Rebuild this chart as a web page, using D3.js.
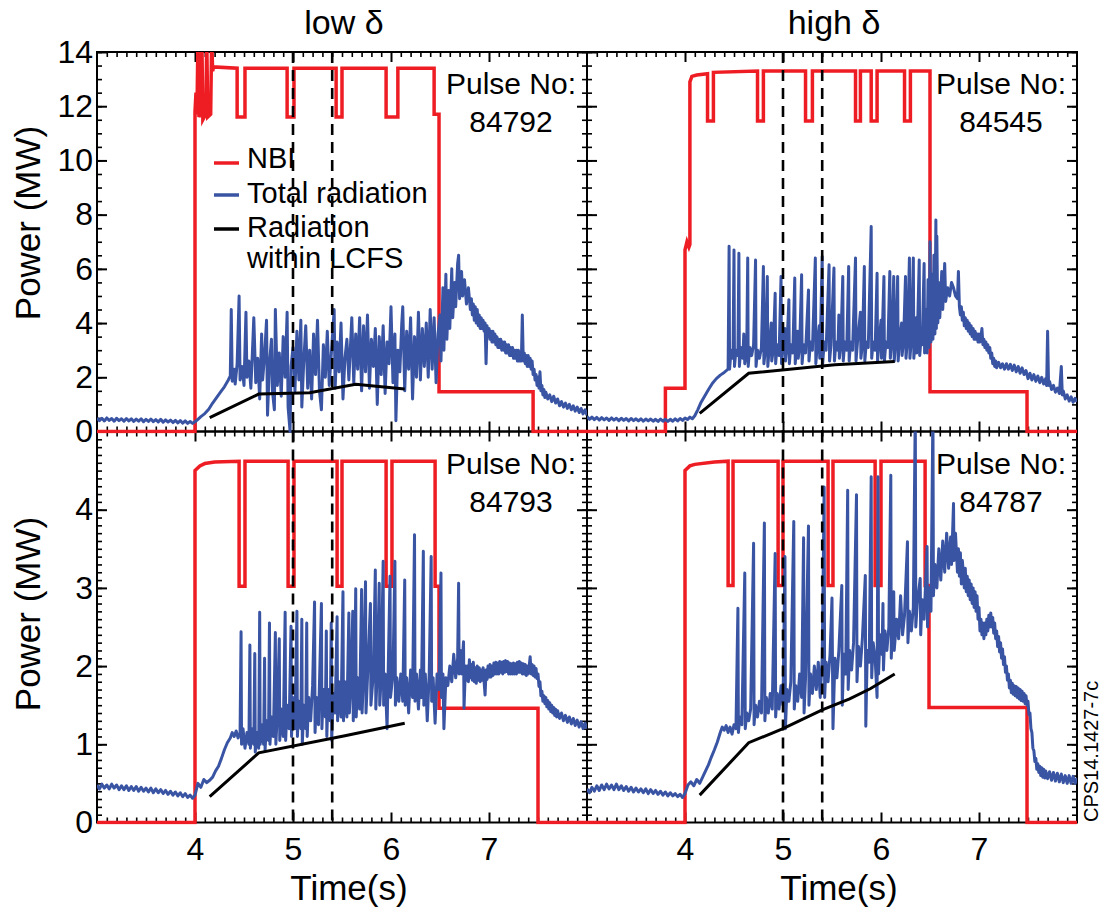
<!DOCTYPE html>
<html><head><meta charset="utf-8">
<script src="https://cdn.jsdelivr.net/npm/d3@7"></script>
<style>
body{margin:0;background:#fff}
svg{display:block}
text{font-family:"Liberation Sans",Arial,Helvetica,sans-serif;fill:#000}
</style>
</head><body>
<svg id="chart" width="1101" height="914"></svg>
<script>
// ---------- tick labels ----------
const xTickLabels = [4, 5, 6, 7];
const yTicksTop = [0, 2, 4, 6, 8, 10, 12, 14];
const yTicksBottom = [0, 1, 2, 3, 4];
const dashedTimes = [5.0, 5.4];
const columnTitles = ["low δ", "high δ"];
const legendLabels = [["NBI"], ["Total radiation"], ["Radiation", "within LCFS"]];

// ---------- Pulse 84792 (low δ, top) ----------
const nbi84792 = [[3,0],[4.0,0],[4.0,11.8],[4.01,12.5],[4.02,11.7],[4.03,14.5],[4.04,11.6],[4.06,11.8],[4.07,14.5],[4.08,11.5],[4.11,11.7],[4.12,14.5],[4.13,11.6],[4.16,11.7],[4.17,14.5],[4.18,13.3],[4.19,13.45],[4.43,13.4],[4.43,11.6],[4.51,11.6],[4.51,13.4],[4.94,13.4],[4.94,11.6],[5.01,11.6],[5.01,13.4],[5.44,13.4],[5.44,11.6],[5.50,11.6],[5.50,13.4],[5.95,13.4],[5.95,11.6],[6.07,11.6],[6.07,13.4],[6.44,13.4],[6.44,11.7],[6.49,11.7],[6.49,1.47],[7.45,1.47],[7.45,0],[8,0]];
const rad84792 = [[3.000,0.50],[3.025,0.40],[3.050,0.49],[3.075,0.39],[3.100,0.50],[3.125,0.41],[3.150,0.48],[3.175,0.38],[3.200,0.49],[3.225,0.40],[3.250,0.47],[3.275,0.38],[3.300,0.48],[3.325,0.39],[3.350,0.47],[3.375,0.37],[3.400,0.46],[3.425,0.38],[3.450,0.47],[3.475,0.36],[3.500,0.45],[3.525,0.37],[3.550,0.46],[3.575,0.36],[3.600,0.44],[3.625,0.35],[3.650,0.45],[3.675,0.34],[3.700,0.43],[3.725,0.35],[3.750,0.42],[3.775,0.33],[3.800,0.41],[3.825,0.32],[3.850,0.40],[3.875,0.31],[3.900,0.39],[3.925,0.30],[3.950,0.37],[3.975,0.30],[4.000,0.36],
[4.03,0.45],[4.06,0.55],[4.10,0.66],[4.14,0.82],[4.18,1.05],[4.22,1.25],[4.26,1.45],[4.30,1.65],[4.34,1.9],
[4.36,2.05],[4.37,4.5],[4.38,1.85],[4.40,2.3],[4.41,1.75],[4.43,2.5],[4.45,5.0],[4.46,1.9],[4.48,2.4],[4.50,1.7],[4.52,4.4],[4.53,2.0],[4.55,2.6],[4.57,1.6],[4.59,3.3],[4.60,4.2],[4.62,1.8],[4.64,2.7],[4.66,1.2],[4.68,3.6],[4.69,1.9],[4.71,2.8],[4.73,4.1],[4.74,0.6],[4.76,2.5],[4.78,3.4],[4.79,1.5],[4.81,0.8],[4.82,4.5],[4.84,1.7],[4.86,2.9],[4.88,1.3],[4.90,3.5],[4.92,2.0],[4.94,4.4],[4.95,0.9],[4.97,0.0],[4.98,2.4],[5.00,3.1],[5.02,1.5],[5.04,3.7],[5.06,1.9],[5.08,4.1],[5.09,0.9],[5.11,2.6],[5.13,3.9],[5.15,1.6],[5.17,3.0],[5.19,1.2],[5.21,3.6],[5.23,2.1],[5.25,4.1],[5.27,1.5],[5.29,0.8],[5.31,3.2],[5.33,2.0],[5.35,3.7],[5.37,1.7],[5.39,2.8],[5.42,4.5],[5.43,1.6],[5.45,3.3],[5.47,2.2],[5.49,4.0],[5.51,1.2],[5.53,2.7],[5.55,3.4],[5.57,1.9],[5.60,4.2],[5.62,1.8],[5.64,3.6],[5.66,2.3],[5.68,4.2],[5.70,1.5],[5.72,3.9],[5.74,2.2],[5.76,4.3],[5.78,1.6],[5.80,3.4],[5.82,2.4],[5.84,3.8],[5.86,1.0],[5.88,3.5],[5.90,2.1],[5.92,3.9],[5.94,1.4],[5.96,3.3],[5.98,2.5],[6.00,4.6],[6.02,1.8],[6.04,3.6],[6.05,0.4],[6.07,3.0],[6.09,2.2],[6.11,4.0],[6.12,4.6],[6.14,1.5],[6.16,3.7],[6.18,2.3],[6.20,4.2],[6.22,1.2],[6.24,3.5],[6.26,2.0],[6.28,4.4],[6.30,1.9],[6.32,3.8],[6.34,2.4],[6.36,4.0],[6.38,2.0],[6.40,4.5],[6.42,2.3],[6.44,4.2],[6.46,1.8],[6.48,3.6],
[6.50,4.3],[6.51,2.6],[6.53,5.3],[6.54,3.0],[6.56,5.8],[6.57,3.4],[6.59,5.2],[6.60,3.8],[6.62,6.0],[6.63,4.2],[6.65,5.5],[6.66,4.6],[6.68,6.2],[6.69,6.5],[6.70,4.9],[6.72,5.9],[6.73,5.0],[6.75,5.6],[6.77,4.7],[6.79,5.3],
[6.81,4.5],[6.82,4.9],[6.83,4.3],[6.84,4.7],[6.85,4.1],[6.86,4.6],[6.87,4.0],[6.88,4.5],[6.89,3.9],[6.90,4.3],[6.91,3.8],[6.92,4.2],[6.93,3.8],[6.94,4.1],[6.95,3.7],[6.96,4.0],[6.97,2.5],[6.98,3.9],[6.99,3.5],[7.00,3.8],[7.01,3.4],[7.02,3.7],[7.03,3.3],[7.04,3.7],[7.05,3.3],[7.06,3.6],[7.07,3.2],[7.08,3.5],[7.09,3.1],[7.10,3.4],[7.11,3.1],[7.12,3.4],[7.13,3.0],[7.14,3.3],[7.15,3.0],[7.16,3.3],[7.17,2.9],[7.18,3.2],[7.19,2.9],[7.20,3.2],[7.21,2.8],[7.22,3.1],[7.23,2.8],[7.24,3.1],[7.25,2.7],[7.26,3.0],[7.27,2.7],[7.28,3.0],[7.29,2.6],[7.30,3.0],[7.31,2.6],[7.32,2.9],[7.33,2.6],[7.34,4.3],[7.35,2.6],[7.36,2.9],[7.37,2.5],[7.38,2.8],[7.39,2.4],[7.40,2.8],[7.41,2.4],[7.42,2.7],[7.43,2.3],[7.44,2.6],[7.45,2.1],[7.46,2.3],[7.47,1.9],[7.48,2.1],[7.49,1.7],[7.50,2.0],[7.51,1.6],[7.52,2.2],[7.53,1.5],[7.54,1.7],[7.55,1.35],[7.56,1.55],[7.57,1.25],[7.58,1.45],[7.60,1.2],[7.62,1.35],[7.64,1.1],[7.66,1.3],[7.68,1.05],[7.70,1.2],[7.72,0.95],[7.74,1.1],[7.76,0.9],[7.78,1.05],[7.80,0.85],[7.82,1.0],[7.84,0.8],[7.86,0.95],[7.88,0.75],[7.90,0.9],[7.92,0.7],[7.94,0.85],[7.96,0.65],[7.98,0.8],[8.00,0.6]];
const lcfs84792 = [[4.15,0.51],[4.65,1.38],[5.17,1.43],[5.64,1.74],[6.14,1.57]];

// ---------- Pulse 84545 (high δ, top) ----------
const nbi84545 = [[3,0],[3.80,0],[3.80,1.6],[4.0,1.6],[4.0,6.7],[4.02,7.0],[4.04,6.8],[4.05,6.9],[4.05,12.9],[4.07,13.1],[4.12,13.15],[4.23,13.2],[4.23,11.45],[4.29,11.45],[4.29,13.25],[4.74,13.3],[4.74,11.45],[4.80,11.45],[4.80,13.3],[5.23,13.3],[5.23,11.45],[5.30,11.45],[5.30,13.3],[5.74,13.3],[5.74,11.45],[5.79,11.45],[5.79,13.3],[5.90,13.3],[5.90,11.45],[5.96,11.45],[5.96,13.3],[6.24,13.3],[6.24,11.45],[6.30,11.45],[6.30,13.3],[6.50,13.3],[6.50,1.47],[7.49,1.47],[7.49,0],[8,0]];
const rad84545 = [[3.000,0.55],[3.025,0.45],[3.050,0.53],[3.075,0.44],[3.100,0.52],[3.125,0.42],[3.150,0.51],[3.175,0.43],[3.200,0.50],[3.225,0.41],[3.250,0.50],[3.275,0.42],[3.300,0.49],[3.325,0.40],[3.350,0.49],[3.375,0.41],[3.400,0.48],[3.425,0.39],[3.450,0.48],[3.475,0.40],[3.500,0.47],[3.525,0.39],[3.550,0.47],[3.575,0.38],[3.600,0.46],[3.625,0.39],[3.650,0.46],[3.675,0.38],[3.700,0.45],[3.725,0.37],[3.750,0.46],[3.775,0.38],[3.800,0.45],[3.825,0.37],[3.850,0.45],[3.875,0.38],[3.900,0.47],[3.925,0.39],[3.950,0.48],[3.975,0.41],[4.000,0.50],[4.025,0.44],[4.050,0.53],[4.075,0.47],[4.100,0.58],
[4.13,0.8],[4.16,1.05],[4.20,1.3],[4.24,1.55],[4.28,1.78],[4.32,1.95],[4.36,2.08],[4.40,2.18],
[4.44,2.30],[4.45,6.83],[4.455,2.3],[4.47,3.0],[4.49,2.7],[4.50,6.70],[4.505,2.4],[4.52,3.0],[4.54,2.8],[4.55,6.58],[4.555,2.4],[4.57,3.1],[4.59,2.7],[4.60,3.6],[4.61,2.5],[4.63,3.0],[4.64,6.40],[4.645,2.4],[4.66,3.1],[4.68,2.8],[4.70,3.2],[4.72,6.33],[4.725,2.4],[4.74,3.0],[4.76,2.7],[4.78,3.1],[4.80,6.09],[4.805,2.5],[4.82,3.0],[4.84,5.72],[4.845,2.4],[4.86,3.1],[4.88,4.0],[4.885,2.6],[4.90,3.0],[4.92,5.10],[4.925,2.5],[4.94,3.2],[4.96,2.8],[4.98,5.72],[4.985,2.5],[5.00,3.2],[5.02,3.8],[5.025,2.6],[5.04,3.1],[5.06,4.86],[5.065,2.5],[5.08,3.2],[5.10,2.9],[5.12,5.66],[5.125,2.5],[5.14,3.2],[5.15,3.7],[5.155,2.7],[5.17,3.1],[5.19,5.78],[5.195,2.5],[5.21,3.2],[5.23,2.9],[5.26,5.22],[5.265,2.6],[5.28,3.3],[5.30,3.0],[5.33,6.40],[5.335,2.5],[5.35,3.2],[5.37,3.9],[5.375,2.7],[5.38,3.1],[5.40,6.46],[5.405,2.5],[5.42,3.3],[5.44,3.0],[5.47,6.15],[5.475,2.6],[5.49,3.2],[5.52,6.03],[5.525,2.6],[5.54,3.3],[5.56,3.0],[5.57,4.3],[5.575,2.7],[5.59,3.2],[5.61,5.72],[5.615,2.6],[5.63,3.3],[5.65,3.0],[5.67,6.09],[5.675,2.6],[5.69,3.3],[5.71,3.0],[5.74,6.40],[5.745,2.6],[5.76,3.3],[5.79,4.4],[5.795,2.7],[5.81,3.2],[5.83,6.09],[5.835,2.6],[5.85,3.3],[5.87,3.1],[5.90,7.56],[5.905,2.7],[5.92,3.3],[5.94,3.0],[5.96,5.84],[5.965,2.6],[5.98,3.3],[6.00,4.1],[6.005,2.7],[6.01,3.2],[6.03,5.72],[6.035,2.6],[6.05,3.3],[6.07,3.1],[6.09,5.90],[6.095,2.7],[6.11,3.3],[6.13,5.72],[6.135,2.6],[6.15,3.3],[6.17,5.72],[6.175,2.6],[6.19,3.4],[6.21,4.0],[6.215,2.8],[6.23,3.3],[6.25,5.72],[6.255,2.7],[6.27,3.4],[6.29,6.40],[6.295,2.7],[6.31,3.4],[6.33,6.40],[6.335,2.7],[6.35,3.4],[6.36,4.2],[6.365,2.9],[6.37,3.3],[6.39,6.33],[6.395,2.8],[6.41,3.5],[6.42,3.2],[6.44,6.20],[6.445,2.9],
[6.46,4.5],[6.47,2.9],[6.48,5.6],[6.49,3.1],[6.50,7.0],[6.51,3.3],[6.52,5.8],[6.53,3.4],[6.54,6.5],[6.55,3.6],[6.56,7.8],[6.565,3.8],[6.57,7.2],[6.58,4.0],[6.59,5.5],[6.60,4.2],[6.62,5.9],[6.63,4.5],[6.65,6.2],[6.66,4.8],[6.68,5.3],[6.70,5.0],[6.72,5.5],[6.74,5.3],[6.76,5.0],[6.78,4.9],[6.79,5.9],
[6.80,4.6],[6.81,4.3],[6.82,4.6],[6.83,4.1],[6.84,4.4],[6.85,3.9],[6.86,4.2],[6.87,3.8],[6.88,4.1],[6.89,3.7],[6.90,4.0],[6.91,3.6],[6.92,3.9],[6.93,3.5],[6.94,3.8],[6.95,3.4],[6.96,3.7],[6.97,3.4],[6.98,3.6],[6.99,3.3],[7.00,3.6],[7.01,3.3],[7.02,3.5],[7.03,3.8],[7.04,3.2],[7.05,3.4],[7.06,3.1],[7.07,3.3],[7.08,3.0],[7.09,3.2],[7.10,2.9],[7.11,3.1],[7.12,2.7],[7.13,2.9],[7.14,2.5],[7.15,2.7],[7.16,2.4],[7.17,2.6],[7.18,2.35],[7.20,2.55],[7.22,2.35],[7.24,2.5],[7.26,2.3],[7.28,2.5],[7.30,2.3],[7.32,2.48],[7.34,2.25],[7.36,2.45],[7.38,2.2],[7.40,2.4],[7.42,2.15],[7.44,2.35],[7.46,2.1],[7.48,2.25],[7.50,1.95],[7.52,2.15],[7.54,1.9],[7.56,2.1],[7.58,1.85],[7.60,2.05],[7.62,1.8],[7.64,2.0],[7.66,1.75],[7.68,1.95],[7.69,1.7],[7.70,3.7],[7.71,1.7],[7.72,1.85],[7.74,1.55],[7.76,1.7],[7.78,1.45],[7.80,1.6],[7.82,1.4],[7.84,2.4],[7.85,1.35],[7.86,1.5],[7.88,1.2],[7.90,1.35],[7.92,1.12],[7.94,1.28],[7.96,1.08],[7.98,1.22],[8.00,1.1]];
const lcfs84545 = [[4.15,0.67],[4.65,2.15],[5.53,2.46],[6.14,2.58]];

// ---------- Pulse 84793 (low δ, bottom) ----------
const nbi84793 = [[3,0],[4.0,0],[4.0,4.5],[4.05,4.56],[4.1,4.59],[4.2,4.61],[4.45,4.62],[4.45,3.02],[4.51,3.02],[4.51,4.62],[4.95,4.62],[4.95,3.02],[5.01,3.02],[5.01,4.62],[5.45,4.62],[5.45,3.02],[5.50,3.02],[5.50,4.62],[5.95,4.62],[5.95,3.02],[6.01,3.02],[6.01,4.62],[6.45,4.62],[6.45,3.02],[6.49,3.02],[6.49,1.46],[7.50,1.46],[7.50,0],[8,0]];
const rad84793 = [[3.000,0.48],[3.025,0.43],[3.050,0.49],[3.075,0.44],[3.100,0.48],[3.125,0.43],[3.150,0.49],[3.175,0.44],[3.200,0.48],[3.225,0.42],[3.250,0.47],[3.275,0.42],[3.300,0.47],[3.325,0.41],[3.350,0.46],[3.375,0.41],[3.400,0.46],[3.425,0.40],[3.450,0.45],[3.475,0.40],[3.500,0.44],[3.525,0.39],[3.550,0.44],[3.575,0.38],[3.600,0.43],[3.625,0.38],[3.650,0.42],[3.675,0.37],[3.700,0.41],[3.725,0.36],[3.750,0.40],[3.775,0.35],[3.800,0.39],[3.825,0.34],[3.850,0.38],[3.875,0.33],[3.900,0.37],[3.925,0.32],[3.950,0.35],[3.975,0.31],[4.000,0.35],
[4.03,0.50],[4.06,0.45],[4.09,0.55],[4.12,0.51],[4.15,0.54],[4.18,0.58],[4.21,0.66],[4.24,0.72],[4.27,0.82],[4.30,0.93],[4.33,1.02],[4.36,1.08],[4.38,1.15],[4.40,1.10],[4.42,1.17],[4.44,1.08],[4.46,1.15],
[4.47,2.44],[4.475,1.0],[4.49,1.2],[4.51,0.95],[4.53,1.15],[4.55,1.0],[4.56,2.27],[4.565,0.95],[4.58,1.2],[4.60,1.0],[4.61,2.16],[4.615,0.9],[4.63,1.15],[4.65,0.95],[4.66,2.69],[4.665,1.0],[4.68,1.25],[4.70,1.0],[4.71,2.1],[4.715,0.92],[4.73,1.3],[4.75,1.05],[4.76,2.55],[4.765,1.0],[4.78,1.35],[4.80,1.1],[4.82,2.43],[4.825,1.0],[4.84,1.4],[4.86,2.35],[4.865,1.05],[4.88,1.45],[4.90,1.1],[4.92,2.69],[4.925,1.05],[4.94,1.5],[4.96,1.2],[4.98,2.51],[4.985,1.1],[5.00,1.6],[5.02,1.2],[5.04,2.7],[5.045,1.1],[5.06,1.55],[5.08,1.2],[5.09,2.6],[5.095,1.0],[5.11,1.5],[5.13,1.2],[5.14,2.55],[5.145,1.1],[5.16,1.6],[5.18,1.3],[5.20,1.75],[5.22,2.82],[5.225,1.15],[5.24,1.6],[5.26,1.25],[5.29,2.8],[5.295,1.2],[5.31,1.7],[5.33,1.35],[5.34,2.45],[5.345,1.1],[5.36,1.7],[5.38,1.3],[5.39,2.55],[5.395,1.05],[5.41,1.65],[5.43,1.4],[5.45,2.63],[5.455,1.3],[5.47,1.8],[5.49,1.35],[5.51,2.95],[5.515,1.3],[5.53,1.8],[5.55,1.35],[5.57,2.68],[5.575,1.4],[5.59,1.75],[5.61,2.7],[5.615,1.3],[5.63,1.8],[5.64,2.99],[5.645,1.35],[5.66,1.85],[5.68,1.45],[5.70,2.98],[5.705,1.4],[5.72,1.9],[5.74,3.08],[5.745,1.4],[5.76,1.85],[5.79,2.8],[5.795,1.5],[5.82,1.9],[5.84,3.23],[5.845,1.45],[5.86,1.95],[5.88,3.06],[5.885,1.5],[5.90,1.85],[5.92,3.34],[5.925,1.5],[5.94,1.9],[5.96,1.2],[5.99,3.15],[5.995,1.6],[6.02,1.9],[6.04,3.34],[6.045,1.5],[6.06,1.85],[6.08,1.55],[6.10,1.9],[6.12,1.55],[6.14,3.1],[6.145,1.5],[6.16,1.85],[6.18,1.4],[6.20,1.95],[6.22,1.6],[6.24,3.68],[6.245,1.55],[6.26,1.9],[6.28,1.45],[6.30,1.95],[6.31,1.6],[6.33,3.47],[6.335,1.5],[6.35,1.9],[6.37,1.3],[6.39,1.9],[6.41,3.4],[6.415,1.55],[6.43,1.85],[6.45,1.27],[6.47,1.9],[6.49,1.7],[6.51,3.19],[6.515,1.6],[6.53,1.9],[6.54,1.2],[6.56,1.85],[6.58,1.75],[6.60,2.0],[6.62,1.8],[6.64,2.15],[6.66,1.85],[6.68,2.1],[6.69,3.06],[6.695,1.9],[6.71,2.2],[6.72,1.9],[6.74,2.31],[6.745,1.46],
[6.76,2.0],[6.77,1.82],[6.78,2.0],[6.79,1.8],[6.80,2.08],[6.81,1.85],[6.82,2.02],[6.83,1.82],[6.84,2.05],[6.85,1.8],[6.86,1.98],[6.87,1.78],[6.88,2.0],[6.89,1.82],[6.90,1.98],[6.91,1.8],[6.92,1.95],[6.93,1.82],[6.94,1.98],[6.95,1.8],[6.96,1.63],[6.97,1.95],[6.98,1.83],[6.99,2.0],[7.00,1.86],[7.01,2.02],[7.02,1.86],[7.03,2.0],[7.04,1.88],[7.05,2.04],[7.06,1.9],[7.07,2.05],[7.08,1.9],[7.09,2.04],[7.10,1.9],[7.11,2.06],[7.12,1.92],[7.13,2.05],[7.14,1.9],[7.15,2.06],[7.16,1.92],[7.17,2.07],[7.18,1.93],[7.19,2.06],[7.20,1.9],[7.21,2.04],[7.22,1.9],[7.23,2.03],[7.24,1.9],[7.25,2.04],[7.26,1.9],[7.27,2.03],[7.28,1.9],[7.29,2.05],[7.30,1.92],[7.31,2.06],[7.32,1.92],[7.33,2.04],[7.34,1.9],[7.35,2.03],[7.36,1.9],[7.37,2.02],[7.38,1.88],[7.39,2.0],[7.40,1.9],[7.41,2.0],[7.42,2.12],[7.43,1.9],[7.44,2.02],[7.45,1.88],[7.46,2.0],[7.47,1.86],[7.48,1.97],[7.49,1.84],[7.50,1.9],[7.51,1.74],[7.52,1.8],[7.53,1.62],[7.54,1.68],[7.55,1.55],[7.56,1.62],[7.57,1.52],[7.58,1.6],[7.59,1.48],[7.60,1.56],[7.61,1.45],[7.62,1.53],[7.63,1.42],[7.64,1.5],[7.65,1.4],[7.66,1.47],[7.67,1.37],[7.68,1.45],[7.69,1.35],[7.70,1.43],[7.72,1.33],[7.74,1.4],[7.76,1.3],[7.78,1.37],[7.80,1.28],[7.82,1.35],[7.84,1.26],[7.86,1.33],[7.88,1.24],[7.90,1.31],[7.92,1.22],[7.94,1.29],[7.96,1.2],[7.98,1.27],[8.00,1.2]];
const lcfs84793 = [[4.15,0.33],[4.65,0.89],[5.53,1.11],[6.14,1.27]];

// ---------- Pulse 84787 (high δ, bottom) ----------
const nbi84787 = [[3,0],[4.0,0],[4.0,4.5],[4.05,4.56],[4.1,4.58],[4.3,4.61],[4.44,4.62],[4.44,3.03],[4.49,3.03],[4.49,4.62],[4.95,4.62],[4.95,3.03],[5.0,3.03],[5.0,4.62],[5.46,4.62],[5.46,3.03],[5.51,3.03],[5.51,4.62],[5.94,4.62],[5.94,3.03],[6.0,3.03],[6.0,4.62],[6.45,4.62],[6.45,3.03],[6.49,3.03],[6.49,1.47],[7.49,1.47],[7.49,0],[8,0]];
const rad84787 = [[3.000,0.43],[3.025,0.38],[3.050,0.45],[3.075,0.40],[3.100,0.47],[3.125,0.41],[3.150,0.48],[3.175,0.42],[3.200,0.49],[3.225,0.43],[3.250,0.48],[3.275,0.42],[3.300,0.49],[3.325,0.42],[3.350,0.47],[3.375,0.41],[3.400,0.46],[3.425,0.40],[3.450,0.45],[3.475,0.39],[3.500,0.44],[3.525,0.39],[3.550,0.43],[3.575,0.38],[3.600,0.43],[3.625,0.37],[3.650,0.42],[3.675,0.37],[3.700,0.41],[3.725,0.36],[3.750,0.40],[3.775,0.35],[3.800,0.39],[3.825,0.34],[3.850,0.38],[3.875,0.34],[3.900,0.37],[3.925,0.33],[3.950,0.36],[3.975,0.32],[4.000,0.37],
[4.03,0.48],[4.06,0.52],[4.09,0.47],[4.12,0.55],[4.15,0.50],[4.18,0.58],[4.21,0.66],[4.24,0.74],[4.27,0.84],[4.30,0.93],[4.33,1.03],[4.36,1.15],[4.38,1.22],[4.40,1.18],[4.42,1.24],[4.44,1.15],[4.46,1.22],[4.48,1.13],[4.50,1.25],[4.52,1.2],
[4.54,2.74],[4.545,1.15],[4.56,1.35],[4.58,1.25],[4.61,3.19],[4.615,1.2],[4.63,1.4],[4.65,1.3],[4.67,1.45],[4.70,3.57],[4.705,1.25],[4.72,1.5],[4.74,1.35],[4.76,1.55],[4.78,1.4],[4.81,3.83],[4.815,1.3],[4.83,1.6],[4.85,1.4],[4.87,1.65],[4.89,1.45],[4.92,3.44],[4.925,1.35],[4.94,1.65],[4.96,1.45],[4.98,1.75],[5.00,1.5],[5.02,3.4],[5.025,1.2],[5.04,1.7],[5.06,1.55],[5.08,1.8],[5.11,3.85],[5.115,1.45],[5.13,1.75],[5.15,1.55],[5.17,1.9],[5.19,1.6],[5.21,3.64],[5.215,1.4],[5.23,1.85],[5.26,3.79],[5.265,1.5],[5.28,1.9],[5.30,1.65],[5.32,2.0],[5.34,1.7],[5.36,2.05],[5.38,1.6],[5.40,2.1],[5.42,4.29],[5.425,1.6],[5.44,2.05],[5.46,1.8],[5.48,2.15],[5.50,2.87],[5.51,1.2],[5.53,2.1],[5.55,1.85],[5.57,2.2],[5.60,3.03],[5.605,1.5],[5.62,2.15],[5.64,1.9],[5.66,4.25],[5.665,1.7],[5.68,2.2],[5.70,1.95],[5.72,2.3],[5.75,4.19],[5.755,1.8],[5.77,2.25],[5.79,2.0],[5.81,2.35],[5.84,3.16],[5.845,1.23],[5.86,2.2],[5.88,2.05],[5.90,4.42],[5.905,1.85],[5.92,2.3],[5.94,2.1],[5.96,1.6],[5.97,4.42],[5.975,1.9],[5.99,2.4],[6.01,2.15],[6.02,2.8],[6.025,1.95],[6.04,2.45],[6.06,2.2],[6.08,2.5],[6.10,4.44],[6.105,2.1],[6.12,2.55],[6.13,2.95],[6.135,2.2],[6.16,2.6],[6.18,2.35],[6.20,2.9],[6.22,2.4],[6.24,2.65],[6.27,3.59],[6.275,2.3],[6.29,2.7],[6.31,2.45],[6.33,2.75],[6.35,5.3],[6.355,2.5],[6.37,2.8],[6.40,3.12],[6.405,2.4],[6.42,2.85],[6.44,2.6],[6.47,3.53],[6.475,2.5],[6.49,3.0],[6.51,2.7],[6.53,5.3],[6.535,2.9],[6.55,3.3],[6.57,3.0],[6.59,3.5],[6.61,3.1],[6.63,3.6],[6.65,3.2],[6.67,3.7],[6.69,3.25],[6.71,3.65],[6.72,3.3],[6.74,4.08],[6.745,3.35],[6.76,3.7],
[6.78,3.2],[6.79,3.5],[6.80,3.15],[6.81,3.45],[6.82,3.05],[6.83,3.35],[6.84,3.2],[6.85,3.0],[6.86,3.25],[6.87,2.95],[6.88,3.15],[6.89,2.9],[6.90,3.1],[6.91,2.85],[6.92,3.05],[6.93,2.8],[6.94,3.0],[6.95,2.75],[6.96,2.95],[6.97,2.7],[6.98,2.9],[6.99,2.6],[7.00,2.75],[7.01,2.45],[7.02,2.6],[7.03,2.4],[7.04,2.55],[7.05,2.35],[7.06,2.55],[7.07,2.4],[7.08,2.6],[7.09,2.45],[7.10,2.65],[7.11,2.5],[7.12,2.68],[7.13,2.5],[7.14,2.62],[7.15,2.42],[7.16,2.55],[7.17,2.35],[7.18,2.45],[7.19,2.25],[7.20,2.38],[7.21,2.18],[7.22,2.3],[7.23,2.1],[7.24,2.22],[7.25,2.02],[7.26,2.12],[7.27,1.92],[7.28,2.0],[7.29,1.82],[7.30,1.9],[7.31,1.72],[7.32,1.82],[7.33,1.66],[7.34,1.78],[7.35,1.64],[7.36,1.75],[7.37,1.62],[7.38,1.74],[7.39,1.6],[7.40,1.72],[7.41,1.58],[7.42,1.7],[7.43,1.56],[7.44,1.68],[7.45,1.55],[7.46,1.65],[7.47,1.52],[7.48,1.62],[7.49,1.5],[7.50,1.55],[7.51,1.38],[7.52,1.4],[7.53,1.2],[7.54,1.15],[7.55,0.95],[7.56,0.92],[7.57,0.78],[7.58,0.82],[7.59,0.68],[7.60,0.75],[7.61,0.64],[7.62,0.72],[7.63,0.6],[7.64,0.7],[7.65,0.58],[7.66,0.68],[7.67,0.57],[7.68,0.66],[7.70,0.56],[7.72,0.65],[7.74,0.54],[7.76,0.64],[7.78,0.53],[7.80,0.63],[7.82,0.52],[7.84,0.62],[7.86,0.51],[7.88,0.6],[7.90,0.5],[7.92,0.6],[7.94,0.5],[7.96,0.59],[7.98,0.5],[8.00,0.57]];
const lcfs84787 = [[4.15,0.35],[4.65,1.02],[5.0,1.2],[5.4,1.44],[5.68,1.58],[5.89,1.71],[6.14,1.9]];

// ---------- layout ----------
const COLORS = {nbi:"#ee1d24", rad:"#3a54a4", lcfs:"#000"};
const colX = [[97,587],[587,1077]];
const rowY = [[431.5,52],[822.5,431.5]];
const rowDomain = [[0,14],[0,5]];
const rowTicks = [yTicksTop, yTicksBottom];
const rowMinorStep = [0.5, 0.1];

const panels = [
  {pulse:"84792", col:0, row:0, nbi:nbi84792, rad:rad84792, lcfs:lcfs84792},
  {pulse:"84545", col:1, row:0, nbi:nbi84545, rad:rad84545, lcfs:lcfs84545},
  {pulse:"84793", col:0, row:1, nbi:nbi84793, rad:rad84793, lcfs:lcfs84793},
  {pulse:"84787", col:1, row:1, nbi:nbi84787, rad:rad84787, lcfs:lcfs84787}
];

const svg = d3.select("#chart");
const defs = svg.append("defs");
const xMinor = d3.range(31, 80).filter(v => v % 10 !== 0).map(v => v / 10);
const intFmt = d3.format("d");

panels.forEach((p, i) => {
  p.x = d3.scaleLinear().domain([3, 8]).range(colX[p.col]);
  p.y = d3.scaleLinear().domain(rowDomain[p.row]).range(rowY[p.row]);
  const [x0, x1] = colX[p.col], [yb, yt] = rowY[p.row];
  defs.append("clipPath").attr("id", "clip" + i).append("rect")
    .attr("x", x0).attr("y", yt).attr("width", x1 - x0).attr("height", yb - yt + 2);
});

// frames and ticks
const frameLayer = svg.append("g");
panels.forEach(p => {
  const [x0, x1] = colX[p.col], [yb, yt] = rowY[p.row];
  const g = frameLayer.append("g");
  const d = rowDomain[p.row];
  const yMinor = d3.range(0, Math.round((d[1] - d[0]) / rowMinorStep[p.row]) + 1).map(k => +(k * rowMinorStep[p.row]).toFixed(2));
  const styleTicks = (sel, w) => { sel.select(".domain").remove(); sel.selectAll("line").attr("stroke", "#000").attr("stroke-width", w); };
  g.append("g").attr("transform", `translate(0,${yb})`).call(d3.axisBottom(p.x).tickValues(xMinor).tickSize(-5).tickFormat("")).call(s => styleTicks(s, 1.6));
  g.append("g").attr("transform", `translate(0,${yt})`).call(d3.axisTop(p.x).tickValues(xMinor).tickSize(-5).tickFormat("")).call(s => styleTicks(s, 1.6));
  g.append("g").attr("transform", `translate(${x0},0)`).call(d3.axisLeft(p.y).tickValues(yMinor).tickSize(-5).tickFormat("")).call(s => styleTicks(s, 1.6));
  g.append("g").attr("transform", `translate(${x1},0)`).call(d3.axisRight(p.y).tickValues(yMinor).tickSize(-5).tickFormat("")).call(s => styleTicks(s, 1.6));
  const xb = d3.axisBottom(p.x).tickValues(xTickLabels).tickSize(-10).tickPadding(15).tickFormat(p.row === 0 ? "" : intFmt);
  g.append("g").attr("transform", `translate(0,${yb})`).call(xb).call(s => styleTicks(s, 2))
    .selectAll("text").attr("font-size", 32).attr("font-family", "Liberation Sans, Arial, sans-serif").attr("fill", "#000");
  g.append("g").attr("transform", `translate(0,${yt})`).call(d3.axisTop(p.x).tickValues(xTickLabels).tickSize(-10).tickFormat("")).call(s => styleTicks(s, 2));
  const yl = d3.axisLeft(p.y).tickValues(rowTicks[p.row]).tickSize(-10).tickPadding(4).tickFormat(p.col === 1 ? "" : intFmt);
  g.append("g").attr("transform", `translate(${x0},0)`).call(yl).call(s => styleTicks(s, 2))
    .selectAll("text").attr("font-size", 32).attr("font-family", "Liberation Sans, Arial, sans-serif").attr("fill", "#000");
  g.append("g").attr("transform", `translate(${x1},0)`).call(d3.axisRight(p.y).tickValues(rowTicks[p.row]).tickSize(-10).tickFormat("")).call(s => styleTicks(s, 2));
  g.append("rect").attr("x", x0).attr("y", yt).attr("width", x1 - x0).attr("height", yb - yt)
    .attr("fill", "none").attr("stroke", "#000").attr("stroke-width", 2);
});

// data
const dataLayer = svg.append("g");
panels.forEach((p, i) => {
  const [yb, yt] = rowY[p.row];
  const g = dataLayer.append("g").attr("clip-path", `url(#clip${i})`);
  const line = d3.line().x(d => p.x(d[0])).y(d => p.y(d[1]));
  g.append("path").datum(p.nbi).attr("d", line).attr("fill", "none")
    .attr("stroke", COLORS.nbi).attr("stroke-width", 3.5).attr("stroke-linejoin", "miter");
  g.append("path").datum(p.rad).attr("d", line).attr("fill", "none")
    .attr("stroke", COLORS.rad).attr("stroke-width", 3).attr("stroke-linejoin", "round");
  g.append("path").datum(p.lcfs).attr("d", line).attr("fill", "none")
    .attr("stroke", COLORS.lcfs).attr("stroke-width", 3);
  dashedTimes.forEach(t => {
    g.append("line").attr("x1", p.x(t)).attr("x2", p.x(t)).attr("y1", yt).attr("y2", yb)
      .attr("stroke", "#000").attr("stroke-width", 2.6).attr("stroke-dasharray", "11,7");
  });
  const cx = (colX[p.col][0] + colX[p.col][1]) / 2 + 169;
  g.append("text").attr("x", cx).attr("y", yt + 42).attr("text-anchor", "middle")
    .attr("font-size", 30).text("Pulse No:");
  g.append("text").attr("x", cx).attr("y", yt + 80).attr("text-anchor", "middle")
    .attr("font-size", 30).text(p.pulse);
});

// legend (top-left panel)
const leg = svg.append("g");
const legColors = [COLORS.nbi, COLORS.rad, COLORS.lcfs];
const legLineY = [163, 195, 229];
const legTextY = [[168], [203], [237, 268]];
legendLabels.forEach((lbl, k) => {
  leg.append("line").attr("x1", 214).attr("x2", 239).attr("y1", legLineY[k]).attr("y2", legLineY[k])
    .attr("stroke", legColors[k]).attr("stroke-width", 3.5);
  lbl.forEach((s, j) => leg.append("text").attr("x", 247).attr("y", legTextY[k][j]).attr("font-size", 29).text(s));
});

// titles
columnTitles.forEach((t, c) => {
  svg.append("text").attr("x", (colX[c][0] + colX[c][1]) / 2 + 2).attr("y", 34).attr("text-anchor", "middle")
    .attr("font-size", 34).text(t);
  svg.append("text").attr("x", (colX[c][0] + colX[c][1]) / 2 + 7).attr("y", 900).attr("text-anchor", "middle")
    .attr("font-size", 35).text("Time(s)");
});
[223, 614].forEach(cy => {
  svg.append("text").attr("transform", `translate(40,${cy}) rotate(-90)`).attr("text-anchor", "middle")
    .attr("font-size", 35).text("Power (MW)");
});
svg.append("text").attr("transform", "translate(1098,822) rotate(-90)").attr("text-anchor", "start")
  .attr("font-size", 20).text("CPS14.1427-7c");
</script>
</body></html>
